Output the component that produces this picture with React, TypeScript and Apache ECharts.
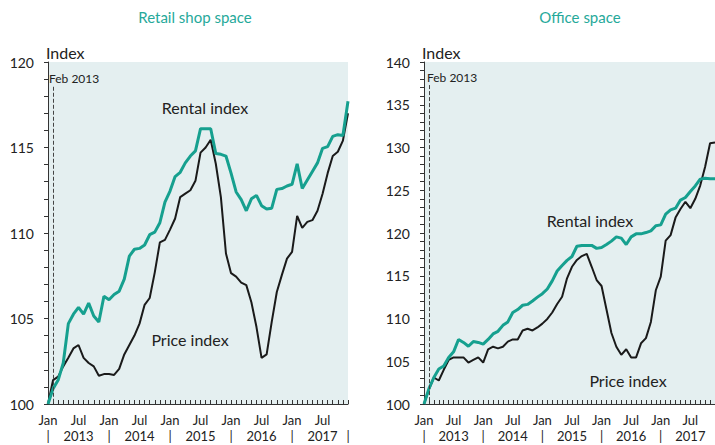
import React, { useEffect, useRef } from "react";
import * as echarts from "echarts";

const MONTHS = ["Jan", "Feb", "Mar", "Apr", "May", "Jun", "Jul", "Aug", "Sep", "Oct", "Nov", "Dec"];
const YEARS = [2013, 2014, 2015, 2016, 2017];
const categories = YEARS.flatMap((y) => MONTHS.map((m) => `${m} ${y}`));

const retailRental = [
  100.0, 100.9, 101.4, 102.4, 104.7, 105.25, 105.65, 105.25, 105.9, 105.15, 104.8, 106.3,
  106.1, 106.4, 106.6, 107.3, 108.65, 109.05, 109.1, 109.3, 109.9, 110.05, 110.6, 111.8,
  112.45, 113.3, 113.55, 114.1, 114.5, 114.8, 116.1, 116.1, 116.1, 114.65, 114.6, 114.5,
  113.5, 112.4, 111.95, 111.3, 112.0, 112.2, 111.6, 111.4, 111.45, 112.55, 112.6, 112.75,
  112.85, 114.05, 112.6, 113.1, 113.6, 114.1, 114.95, 115.05, 115.65, 115.75, 115.7, 117.7,
];
const retailPrice = [
  100.0, 101.4, 101.6, 102.2, 102.7, 103.25, 103.45, 102.7, 102.4, 102.2, 101.65, 101.75,
  101.75, 101.7, 102.05, 102.9, 103.45, 104.0, 104.7, 105.8, 106.2, 107.7, 109.45, 109.6,
  110.2, 110.85, 112.1, 112.3, 112.5, 113.05, 114.7, 115.0, 115.45, 114.05, 112.1, 108.8,
  107.65, 107.45, 107.1, 106.95, 105.95, 104.5, 102.7, 102.9, 104.8, 106.55, 107.55, 108.5,
  108.9, 111.0, 110.3, 110.65, 110.75, 111.3, 112.3, 113.5, 114.5, 114.75, 115.4, 117.0,
];
const officeRental = [
  100.0, 101.8, 103.1, 104.1, 104.45, 105.45, 106.1, 107.55, 107.2, 106.75, 107.3, 107.2,
  107.0, 107.55, 108.2, 108.5, 109.2, 109.6, 110.7, 111.05, 111.55, 111.65, 112.05, 112.5,
  112.9, 113.45, 114.4, 115.55, 116.2, 116.8, 117.25, 118.45, 118.55, 118.55, 118.55, 118.2,
  118.3, 118.65, 119.05, 119.55, 119.4, 118.65, 119.55, 119.9, 119.9, 120.05, 120.25, 120.85,
  120.95, 122.2, 122.7, 122.9, 123.85, 124.15, 124.85, 125.5, 126.3, 126.4, 126.35, 126.35,
];
const officePrice = [
  100.0, 101.7, 103.1, 102.75, 104.0, 105.15, 105.45, 105.45, 105.45, 104.85, 105.15, 105.45,
  104.85, 106.4, 106.7, 106.5, 106.7, 107.3, 107.55, 107.55, 108.6, 108.8, 108.6, 108.95,
  109.4, 109.95, 110.7, 111.7, 112.55, 114.7, 116.05, 116.85, 117.3, 117.55, 116.05, 114.5,
  113.8, 111.05, 108.3, 106.7, 105.75, 106.4, 105.45, 105.45, 107.1, 107.7, 109.6, 113.3,
  114.9, 119.1, 119.75, 121.8, 122.8, 123.65, 122.9, 124.0, 125.55, 127.75, 130.5, 130.6,
];

const TEAL = "#16a08f";
const TITLE_TEAL = "#26a99a";
const INK = "#222222";
const BG = "#e4eff0";
const FONT = "Lato";

function makeXAxes(gridIndex: number, lastSep: boolean) {
  return [
    {
      type: "category",
      gridIndex,
      data: categories,
      boundaryGap: false,
      axisLine: { lineStyle: { color: "#333", width: 1 } },
      axisTick: { inside: true, length: 4, interval: 0, lineStyle: { color: "#333" } },
      axisLabel: {
        interval: (i: number) => i % 6 === 0,
        formatter: (v: string) => v.split(" ")[0],
        color: INK,
        fontSize: 13,
        lineHeight: 13,
        fontFamily: FONT,
        margin: 9,
      },
    },
    {
      type: "category",
      gridIndex,
      data: categories,
      boundaryGap: false,
      position: "bottom",
      offset: 16,
      axisLine: { show: false },
      axisTick: { show: false },
      axisLabel: {
        interval: (i: number) => i % 12 === 0 || i % 12 === 6 || (lastSep && i === categories.length - 1),
        formatter: (v: string, i: number) => (i % 12 === 6 ? v.split(" ")[1] : "|"),
        color: INK,
        fontSize: 13,
        lineHeight: 13,
        fontFamily: FONT,
        margin: 9,
      },
    },
  ];
}

function makeYAxis(gridIndex: number, min: number, max: number) {
  return {
    type: "value",
    gridIndex,
    min,
    max,
    interval: 1,
    name: "Index",
    nameLocation: "end",
    nameGap: 2,
    nameTextStyle: { align: "left", verticalAlign: "bottom", color: INK, fontSize: 16, fontFamily: FONT, padding: [0, 0, 0, -2] },
    splitLine: { show: false },
    axisLine: { show: true, lineStyle: { color: "#333", width: 1 } },
    axisTick: { show: true, length: 4, lineStyle: { color: "#333" } },
    axisLabel: {
      formatter: (v: number) => (v % 5 === 0 ? String(v) : ""),
      color: INK,
      fontSize: 14,
      fontFamily: FONT,
      margin: 14,
    },
  };
}

function dashed(yStart: number, yEnd: number) {
  return {
    silent: true,
    symbol: "none",
    label: { show: false },
    lineStyle: { type: "dashed", color: "#444", width: 1 },
    data: [[{ xAxis: categories[1], yAxis: yStart }, { xAxis: categories[1], yAxis: yEnd }]],
  };
}

export default function App() {
  const ref = useRef<HTMLDivElement>(null);
  useEffect(() => {
    if (!ref.current) return;
    const chart = echarts.init(ref.current, undefined, { renderer: "svg" });
    const text = (x: number, y: number, s: string, size: number, align = "center", color = INK) => ({
      type: "text",
      x,
      y,
      style: { text: s, fill: color, fontSize: size, fontFamily: FONT, align, verticalAlign: "middle" },
    });
    chart.setOption({
      animation: false,
      backgroundColor: "#ffffff",
      title: [
        { text: "Retail shop space", left: 190, top: 4, textAlign: "center", textStyle: { color: TITLE_TEAL, fontSize: 15, fontWeight: "normal", fontFamily: FONT } },
        { text: "Office space", left: 575, top: 4, textAlign: "center", textStyle: { color: TITLE_TEAL, fontSize: 15, fontWeight: "normal", fontFamily: FONT } },
      ],
      grid: [
        { left: 48, top: 62, width: 300, height: 342, show: true, backgroundColor: BG, borderWidth: 0 },
        { left: 424, top: 62, width: 294, height: 342, show: true, backgroundColor: BG, borderWidth: 0 },
      ],
      xAxis: [...makeXAxes(0, true), ...makeXAxes(1, false)],
      yAxis: [makeYAxis(0, 100, 120), makeYAxis(1, 100, 140)],
      series: [
        {
          type: "line", name: "Retail price", xAxisIndex: 0, yAxisIndex: 0, data: retailPrice,
          symbol: "none", lineStyle: { color: "#1a1a1a", width: 2 }, itemStyle: { color: "#1a1a1a" },
          markLine: dashed(118.55, 100),
        },
        {
          type: "line", name: "Retail rental", xAxisIndex: 0, yAxisIndex: 0, data: retailRental,
          symbol: "none", lineStyle: { color: TEAL, width: 3 }, itemStyle: { color: TEAL },
        },
        {
          type: "line", name: "Office price", xAxisIndex: 2, yAxisIndex: 1, data: officePrice,
          symbol: "none", lineStyle: { color: "#1a1a1a", width: 2 }, itemStyle: { color: "#1a1a1a" },
          markLine: dashed(137.3, 100),
        },
        {
          type: "line", name: "Office rental", xAxisIndex: 2, yAxisIndex: 1, data: officeRental,
          symbol: "none", lineStyle: { color: TEAL, width: 3 }, itemStyle: { color: TEAL },
        },
      ],
      graphic: [
        text(49, 78, "Feb 2013", 12, "left"),
        text(427, 77, "Feb 2013", 12, "left"),
        text(205, 107, "Rental index", 16),
        text(190, 339, "Price index", 16),
        text(590, 220, "Rental index", 16),
        text(628, 380, "Price index", 16),
      ],
    });
    return () => chart.dispose();
  }, []);
  return <div ref={ref} style={{ position: "absolute", left: 0, top: 0, width: 715, height: 445 }} />;
}
